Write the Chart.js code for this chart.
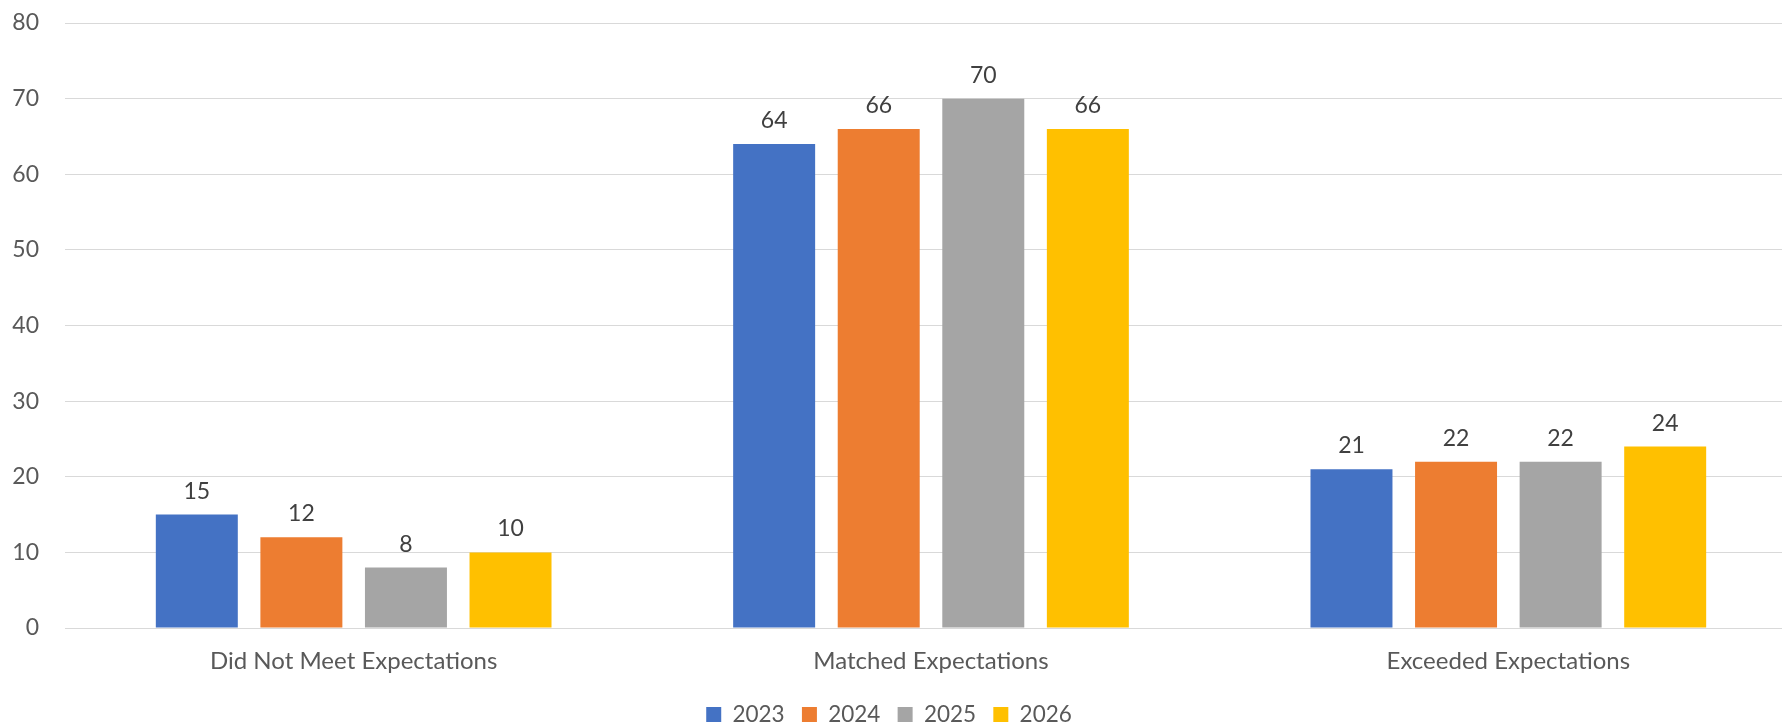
<!DOCTYPE html>
<html>
<head>
<meta charset="utf-8">
<script src="https://cdn.jsdelivr.net/npm/chart.js@4.4.1/dist/chart.umd.min.js"></script>
<style>
  html, body { margin: 0; padding: 0; background: #fff; overflow: hidden; }
  #wrap { width: 1782px; height: 725px; overflow: hidden; }
</style>
</head>
<body>
<div id="wrap"><canvas id="ratingsChart" width="1797" height="725"></canvas></div>
<script>
// chart values
const categories = ["Did Not Meet Expectations", "Matched Expectations", "Exceeded Expectations"];
const years = ["2023", "2024", "2025", "2026"];
const values2023 = [15, 64, 21];
const values2024 = [12, 66, 22];
const values2025 = [8, 70, 22];
const values2026 = [10, 66, 24];
const yTicks = [0, 10, 20, 30, 40, 50, 60, 70, 80];

const colors = ["#4472C4", "#ED7D31", "#A5A5A5", "#FFC000"];
const seriesValues = [values2023, values2024, values2025, values2026];

const fontFamily = "Lato, 'Open Sans', sans-serif";
Chart.defaults.font.family = fontFamily;
Chart.defaults.font.size = 23;
Chart.defaults.color = "#595959";

// draws the number above each bar
const valueLabels = {
  id: "valueLabels",
  afterDatasetsDraw(chart) {
    const ctx = chart.ctx;
    ctx.save();
    ctx.font = "23px " + fontFamily;
    ctx.fillStyle = "#404040";
    ctx.textAlign = "center";
    ctx.textBaseline = "alphabetic";
    chart.data.datasets.forEach(function(ds, i) {
      chart.getDatasetMeta(i).data.forEach(function(bar, j) {
        ctx.fillText(ds.data[j], bar.x, bar.y - 16);
      });
    });
    ctx.restore();
  }
};

// the picture is cut on the right, so move the legend back to the window centre
const legendShift = {
  id: "legendShift",
  afterLayout(chart) {
    const lg = chart.legend;
    if (!lg) return;
    lg.left -= 9.5; lg.right -= 9.5;
    lg.top += 1; lg.bottom += 1;
  }
};

const ctx = document.getElementById("ratingsChart").getContext("2d");
new Chart(ctx, {
  type: "bar",
  data: {
    labels: categories,
    datasets: years.map(function(y, i) {
      return {
        label: y,
        data: seriesValues[i],
        backgroundColor: colors[i],
        borderWidth: 0,
        barPercentage: 0.784,
        categoryPercentage: 0.7245
      };
    })
  },
  options: {
    responsive: false,
    animation: false,
    layout: { padding: { top: 23, left: 0, right: 0, bottom: -9.75 } },
    scales: {
      x: {
        grid: { display: false },
        border: { display: false },
        ticks: { padding: 10.6, color: "#595959", font: { size: 24 } },
        afterFit: function(scale) { scale.height = 57; }
      },
      y: {
        min: 0,
        max: 80,
        afterBuildTicks: function(scale) {
          scale.ticks = yTicks.map(function(v) { return { value: v }; });
        },
        grid: { color: "#d9d9d9", lineWidth: 1, drawTicks: false },
        border: { display: false },
        ticks: { padding: 26, color: "#595959" },
        afterFit: function(scale) {
          scale.width = 65;
          // keep the tick padding from pushing the plot down
          scale.paddingTop = 0;
          scale.paddingBottom = 0;
        }
      }
    },
    plugins: {
      legend: {
        position: "bottom",
        labels: {
          boxWidth: 15,
          boxHeight: 15,
          padding: 17.25,
          color: "#595959",
          font: { size: 22.5 }
        }
      },
      tooltip: { enabled: false }
    }
  },
  plugins: [valueLabels, legendShift]
});
</script>
</body>
</html>
